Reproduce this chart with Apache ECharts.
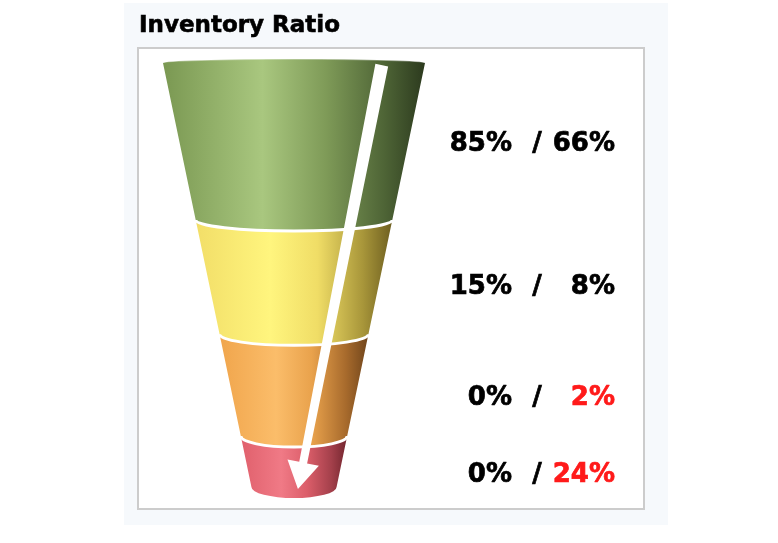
<!DOCTYPE html>
<html>
<head>
<meta charset="utf-8">
<script src="https://cdn.jsdelivr.net/npm/echarts@6/dist/echarts.min.js"></script>
<style>
html,body{margin:0;padding:0;background:#ffffff;}
#chart{width:778px;height:543px;}
</style>
</head>
<body>
<div id="chart"></div>
<script>
// ---- data ----
const stages = ['Level 1', 'Level 2', 'Level 3', 'Level 4'];
const targetShare = [85, 15, 0, 0];     // first figure in each row (%)
const actualShare = [66, 8, 2, 24];     // second figure in each row (%)
const stageDepth = [37, 27, 24, 12];    // share of the funnel height taken by each band
const titleText = 'Inventory Ratio';

// ---- build the bands (cumulative depth) ----
const bandData = [];
let acc = 0;
stages.forEach(function (s, i) {
  bandData.push([i, acc, acc + stageDepth[i]]);
  acc += stageDepth[i];
});

const palettes = [
  ['#7a9852', '#a9c77f', '#7f9b58', '#4d6335', '#2c3a1e'],
  ['#f2de68', '#fff57e', '#f0dd66', '#a8963a', '#6e5f20'],
  ['#f0a54c', '#fbbd6a', '#e9a24c', '#a76a2c', '#70451b'],
  ['#e0606c', '#f07a86', '#dc5e6a', '#a4404b', '#73262f']
];

const taper = 0.325;
function radius(d) { return 1 - (1 - taper) * d / 100; }
const RY = 11, TOP_RY = 4;

function bandItem(params, api) {
  const i = params.dataIndex;
  const d0 = api.value(1), d1 = api.value(2);
  const L0 = api.coord([-radius(d0), d0]), R0 = api.coord([radius(d0), d0]);
  const L1 = api.coord([-radius(d1), d1]), R1 = api.coord([radius(d1), d1]);
  const rx0 = (R0[0] - L0[0]) / 2, rx1 = (R1[0] - L1[0]) / 2;
  const topRy = i === 0 ? TOP_RY : RY;
  const sweep = i === 0 ? 0 : 1;
  const pathData =
    'M' + L0[0] + ' ' + L0[1] +
    ' L' + L1[0] + ' ' + L1[1] +
    ' A' + rx1 + ' ' + RY + ' 0 0 0 ' + R1[0] + ' ' + R1[1] +
    ' L' + R0[0] + ' ' + R0[1] +
    ' A' + rx0 + ' ' + topRy + ' 0 0 ' + sweep + ' ' + L0[0] + ' ' + L0[1] + ' Z';
  const p = palettes[i];
  const children = [{
    type: 'path',
    shape: { pathData: pathData },
    style: {
      fill: new echarts.graphic.LinearGradient(0, 0, 1, 0, [
        { offset: 0, color: p[0] },
        { offset: 0.38, color: p[1] },
        { offset: 0.62, color: p[2] },
        { offset: 0.85, color: p[3] },
        { offset: 1, color: p[4] }
      ])
    }
  }];
  if (i > 0) {
    children.push({
      type: 'path',
      z2: 5,
      shape: { pathData: 'M' + L0[0] + ' ' + L0[1] + ' A' + rx0 + ' ' + RY + ' 0 0 0 ' + R0[0] + ' ' + R0[1] },
      style: { fill: null, stroke: '#ffffff', lineWidth: 3 }
    });
  } else {
    children.push({
      type: 'path',
      z2: 5,
      shape: { pathData: 'M' + L0[0] + ' ' + L0[1] + ' A' + rx0 + ' ' + TOP_RY + ' 0 0 1 ' + R0[0] + ' ' + R0[1] },
      style: { fill: null, stroke: 'rgba(255,255,255,0.35)', lineWidth: 1.5 }
    });
  }
  // labels
  const topC = i === 0 ? L0[1] - TOP_RY : L0[1] + RY;
  const botC = L1[1] + RY;
  const ly = (topC + botC) / 2 - 1 + (i >= 2 ? 3.5 : 0);
  const font = { fontSize: 26, fontWeight: 'bold', fontFamily: '"DejaVu Sans", Verdana, sans-serif', lineWidth: 0.7 };
  const aColor = actualShare[i] > targetShare[i] ? '#ff1a1a' : '#000000';
  children.push({ type: 'text', z2: 10, style: Object.assign({ text: targetShare[i] + '%', x: 512, y: ly, align: 'right', verticalAlign: 'middle', fill: '#000', stroke: '#000' }, font) });
  children.push({ type: 'text', z2: 10, style: Object.assign({ text: '/', x: 537, y: ly, align: 'center', verticalAlign: 'middle', fill: '#000', stroke: '#000' }, font) });
  children.push({ type: 'text', z2: 10, style: Object.assign({ text: actualShare[i] + '%', x: 615, y: ly, align: 'right', verticalAlign: 'middle', fill: aColor, stroke: aColor }, font) });
  return { type: 'group', children: children };
}

function arrowItem(params, api) {
  const S = api.coord([0.67, 0.5]);
  const T = api.coord([0.03, 100.5]);
  let ux = T[0] - S[0], uy = T[1] - S[1];
  const len = Math.sqrt(ux * ux + uy * uy);
  ux /= len; uy /= len;
  const nx = -uy, ny = ux;
  const headLen = 27, headHalf = 16;
  const B = [T[0] - ux * headLen, T[1] - uy * headLen];
  const pts = [
    [S[0] + nx * 6.5, S[1] + ny * 6.5],
    [B[0] + nx * 4, B[1] + ny * 4],
    [B[0] + nx * headHalf, B[1] + ny * headHalf],
    [T[0], T[1]],
    [B[0] - nx * headHalf, B[1] - ny * headHalf],
    [B[0] - nx * 4, B[1] - ny * 4],
    [S[0] - nx * 6.5, S[1] - ny * 6.5]
  ];
  return { type: 'polygon', shape: { points: pts }, style: { fill: '#ffffff' } };
}

const chart = echarts.init(document.getElementById('chart'), null, { renderer: 'canvas' });
chart.setOption({
  animation: false,
  backgroundColor: '#ffffff',
  title: {
    text: titleText,
    left: 134,
    top: 10,
    textStyle: { fontSize: 23, fontWeight: 'bold', color: '#000', fontFamily: '"DejaVu Sans", Verdana, sans-serif', textBorderColor: '#000', textBorderWidth: 0.6 }
  },
  graphic: [
    { type: 'rect', z: -10, shape: { x: 124, y: 3, width: 544, height: 522 }, style: { fill: '#f6f9fc' } },
    { type: 'rect', z: -9, shape: { x: 138, y: 48, width: 506, height: 461 }, style: { fill: '#ffffff', stroke: '#cccccc', lineWidth: 2 } }
  ],
  grid: { left: 163, right: 353, top: 63, bottom: 56 },
  xAxis: { type: 'value', min: -1, max: 1, show: false },
  yAxis: { type: 'value', min: 0, max: 100, inverse: true, show: false },
  series: [
    {
      type: 'custom',
      name: 'bands',
      renderItem: bandItem,
      data: bandData,
      encode: { x: -1, y: [1, 2] },
      z: 2,
      silent: true,
      clip: false
    },
    {
      type: 'custom',
      name: 'arrow',
      renderItem: arrowItem,
      data: [[0]],
      z: 5,
      silent: true,
      clip: false
    }
  ]
});
</script>
</body>
</html>
